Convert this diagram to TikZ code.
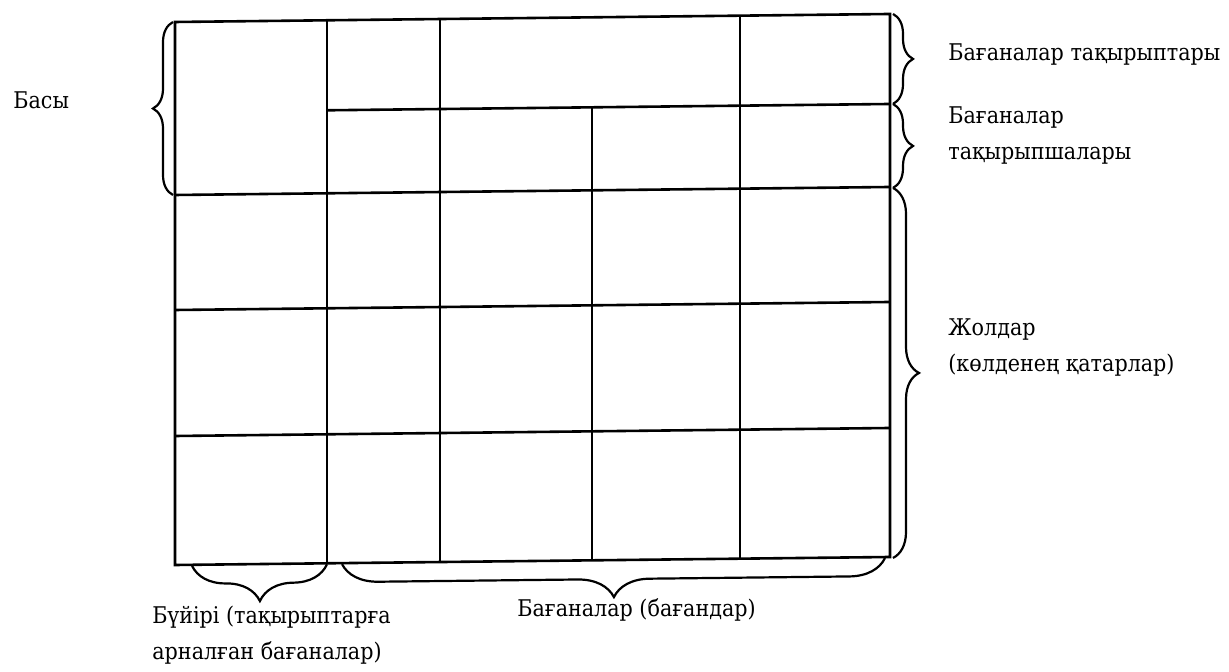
\documentclass[tikz,border=0pt]{standalone}
\usepackage{fontspec}
\setmainfont{DejaVu Serif Condensed}
\usetikzlibrary{decorations.pathreplacing}

\begin{document}
\begin{tikzpicture}[x=0.5pt,y=-0.5pt,
  rule/.style={black, line width=1.3pt},
  brc/.style={black, line width=1.1pt, decorate, decoration={brace, amplitude=#1}},
  lbl/.style={font=\fontsize{11.5}{18}\selectfont, anchor=west, align=left, inner sep=0pt}]
\useasboundingbox (0,0) rectangle (1229,672);
\begin{scope}[shift={(175,0)}, yslant=0.0112, shift={(-175,0)}]
\draw[rule] (175,22) rectangle (890,565);
\draw[rule] (327,22) -- (327,565);
\draw[rule] (440,22) -- (440,565);
\draw[rule] (740,22) -- (740,565);
\draw[rule] (592,112) -- (592,565);
\draw[rule] (327,112) -- (890,112);
\draw[rule] (175,195) -- (890,195);
\draw[rule] (175,310) -- (890,310);
\draw[rule] (175,436) -- (890,436);
\coordinate (hTop) at (175,22);
\coordinate (hBot) at (175,195);
\draw[brc=10pt] ([xshift=-1pt]hBot) -- ([xshift=-1pt]hTop);
\coordinate (c1) at (893,22);
\coordinate (c2) at (893,112);
\coordinate (c3) at (893,196);
\coordinate (c4) at (893,566);
\draw[brc=10pt] (c1) -- (c2);
\draw[brc=10pt] (c2) -- (c3);
\draw[brc=13pt] (c3) -- (c4);
\coordinate (s1) at (192,566);
\coordinate (s2) at (327,566);
\coordinate (s3) at (342,566);
\coordinate (s4) at (885,566);
\draw[brc=18pt] (s2) -- (s1);
\draw[brc=18pt] (s4) -- (s3);
\end{scope}
\node[lbl] (head) at (13,100) {Басы};
\node[lbl] (coltitle) at (948,55) {Бағаналар тақырыптары};
\node[lbl] (colsub) at (948,136) {Бағаналар\\тақырыпшалары};
\node[lbl] (rows) at (948,348) {Жолдар\\(көлденең қатарлар)};
\node[lbl] (stub) at (152,635) {Бүйірі (тақырыптарға\\арналған бағаналар)};
\node[lbl] (cols) at (517,610) {Бағаналар (бағандар)};
\end{tikzpicture}
\end{document}
